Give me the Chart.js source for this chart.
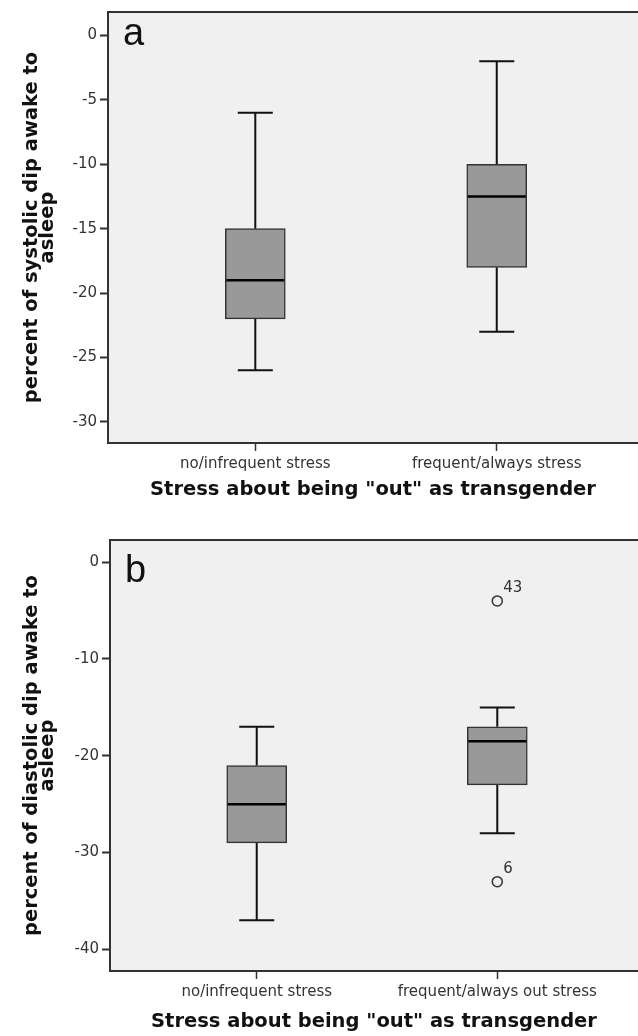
<!DOCTYPE html>
<html><head><meta charset="utf-8">
<script src="https://cdn.jsdelivr.net/npm/chart.js@4"></script>
<style>
html,body{margin:0;padding:0;background:#fff;width:638px;height:1036px;overflow:hidden;}
canvas{display:block;}
#wrapA{position:absolute;left:0;top:0;width:638px;height:528px;}
#wrapB{position:absolute;left:0;top:528px;width:638px;height:508px;}
</style></head><body>
<div id="wrapA"><canvas id="chartA" width="638" height="528"></canvas></div>
<div id="wrapB"><canvas id="chartB" width="638" height="508"></canvas></div>
<script>
// ---- data ----
const categoriesA = ['no/infrequent stress', 'frequent/always stress'];
const categoriesB = ['no/infrequent stress', 'frequent/always out stress'];
const xAxisTitle = 'Stress about being "out" as transgender';

const systolicMin    = [-26, -23];
const systolicQ1     = [-22, -18];
const systolicMedian = [-19, -12.5];
const systolicQ3     = [-15, -10];
const systolicMax    = [-6, -2];
const systolicTicks  = [0, -5, -10, -15, -20, -25, -30];

const diastolicMin    = [-37, -28];
const diastolicQ1     = [-29, -23];
const diastolicMedian = [-25, -18.5];
const diastolicQ3     = [-21, -17];
const diastolicMax    = [-17, -15];
const diastolicTicks  = [0, -10, -20, -30, -40];

const diastolicOutlierGroup = [2, 2];
const diastolicOutlierValue = [-4, -33];
const diastolicOutlierId    = ['43', '6'];

// ---- styles ----
Chart.defaults.font.family = '"DejaVu Sans", sans-serif';
const BOX_W = 60, CAP_HALF = 17.5;

function boxPlugin(st, letter, letterBaseline, outliers) {
  return {
    id: 'boxplot_' + letter,
    beforeDraw(chart) {
      const {ctx, chartArea: a} = chart;
      ctx.save();
      ctx.fillStyle = '#f0f0f0';
      ctx.fillRect(a.left, a.top, a.right - a.left, a.bottom - a.top);
      ctx.restore();
    },
    beforeDatasetsDraw(chart) {
      const {ctx, scales: {x, y}} = chart;
      ctx.save();
      ctx.strokeStyle = '#111';
      ctx.lineWidth = 2;
      st.min.forEach((mn, i) => {
        const px = x.getPixelForValue(i + 1);
        [[st.max[i], st.q3[i]], [mn, st.q1[i]]].forEach(([end, edge]) => {
          const pe = y.getPixelForValue(end), pb = y.getPixelForValue(edge);
          ctx.beginPath();
          ctx.moveTo(px, pb); ctx.lineTo(px, pe);
          ctx.moveTo(px - CAP_HALF, pe); ctx.lineTo(px + CAP_HALF, pe);
          ctx.stroke();
        });
      });
      ctx.restore();
    },
    afterDatasetsDraw(chart) {
      const {ctx, scales: {x, y}, chartArea: a} = chart;
      ctx.save();
      ctx.strokeStyle = '#000';
      ctx.lineWidth = 2.5;
      st.median.forEach((m, i) => {
        const px = x.getPixelForValue(i + 1), py = y.getPixelForValue(m);
        ctx.beginPath();
        ctx.moveTo(px - BOX_W / 2 + 1, py); ctx.lineTo(px + BOX_W / 2 - 1, py);
        ctx.stroke();
      });
      if (outliers) {
        ctx.fillStyle = '#333';
        ctx.font = '15px "DejaVu Sans"';
        ctx.textBaseline = 'alphabetic';
        ctx.textAlign = 'left';
        outliers.id.forEach((id, i) => {
          const px = x.getPixelForValue(outliers.group[i]), py = y.getPixelForValue(outliers.value[i]);
          ctx.fillText(id, px + 6, py - 9);
        });
      }
      // top frame line
      ctx.strokeStyle = '#333';
      ctx.lineWidth = 2;
      ctx.beginPath();
      ctx.moveTo(a.left - 1, a.top); ctx.lineTo(a.right, a.top);
      ctx.stroke();
      // panel letter
      ctx.fillStyle = '#111';
      ctx.font = '38px "Liberation Sans"';
      ctx.textAlign = 'left';
      ctx.textBaseline = 'alphabetic';
      ctx.fillText(letter, a.left + 15, a.top + letterBaseline);
      ctx.restore();
    }
  };
}

function makePanel(id, cats, st, yTicks, yMin, yMax, yTitle, letter, letterBaseline, outliers, geo) {
  const xs = cats.map((_, i) => i + 1);
  const datasets = [{
    type: 'bar',
    data: xs.map((xv, i) => ({x: xv, y: [st.q1[i], st.q3[i]]})),
    backgroundColor: '#999999',
    borderColor: '#333',
    borderWidth: 1.5,
    borderSkipped: false,
    barThickness: BOX_W,
    grouped: false
  }];
  if (outliers) {
    datasets.push({
      type: 'scatter',
      data: outliers.group.map((g, i) => ({x: g, y: outliers.value[i]})),
      pointStyle: 'circle',
      pointRadius: 5,
      borderColor: '#333',
      borderWidth: 1.5,
      backgroundColor: 'rgba(0,0,0,0)'
    });
  }
  return new Chart(document.getElementById(id), {
    type: 'bar',
    data: {datasets},
    options: {
      responsive: false,
      animation: false,
      devicePixelRatio: 1,
      layout: {autoPadding: false, padding: {top: geo.top, left: 0, right: 0, bottom: 0}},
      plugins: {legend: {display: false}, tooltip: {enabled: false}},
      scales: {
        x: {
          type: 'linear', min: 0.39, max: 2.585, offset: false,
          afterBuildTicks: s => { s.ticks = xs.map(v => ({value: v})); },
          afterFit: s => { s.height = geo.xH; s.paddingLeft = 0; s.paddingRight = 0; },
          ticks: {callback: v => cats[v - 1], color: '#333', font: {size: 15}, padding: 4, autoSkip: false, maxRotation: 0},
          grid: {offset: false, drawOnChartArea: false, drawTicks: true, tickLength: 8, tickColor: '#333', tickWidth: 1.5},
          border: {display: true, color: '#333', width: 2},
          title: {display: true, text: xAxisTitle, color: '#111', font: {size: 19.5, weight: 'bold'}, padding: {top: 0, bottom: geo.xTitlePad}}
        },
        y: {
          type: 'linear', min: yMin, max: yMax,
          afterBuildTicks: s => { s.ticks = yTicks.map(v => ({value: v})); },
          afterFit: s => { s.width = geo.left; },
          ticks: {color: '#333', font: {size: 15}, padding: 3},
          grid: {drawOnChartArea: false, drawTicks: true, tickLength: 8, tickColor: '#333', tickWidth: 2},
          border: {display: true, color: '#333', width: 2},
          title: {display: true, text: yTitle, color: '#111', font: {size: 19.5, weight: 'bold', lineHeight: 0.82}, padding: {top: 23.5, bottom: 0}}
        }
      }
    },
    plugins: [boxPlugin(st, letter, letterBaseline, outliers)]
  });
}

makePanel('chartA', categoriesA,
  {min: systolicMin, q1: systolicQ1, median: systolicMedian, q3: systolicQ3, max: systolicMax},
  systolicTicks, -31.64, 1.82,
  ['percent of systolic dip awake to', 'asleep'], 'a', 32.5, null,
  {top: 8, left: 108, xH: 85, xTitlePad: 26});

makePanel('chartB', categoriesB,
  {min: diastolicMin, q1: diastolicQ1, median: diastolicMedian, q3: diastolicQ3, max: diastolicMax},
  diastolicTicks, -42.23, 2.29,
  ['percent of diastolic dip awake to', 'asleep'], 'b', 42,
  {group: diastolicOutlierGroup, value: diastolicOutlierValue, id: diastolicOutlierId},
  {top: 9, left: 110, xH: 65, xTitlePad: 2.6});
</script>
</body></html>
